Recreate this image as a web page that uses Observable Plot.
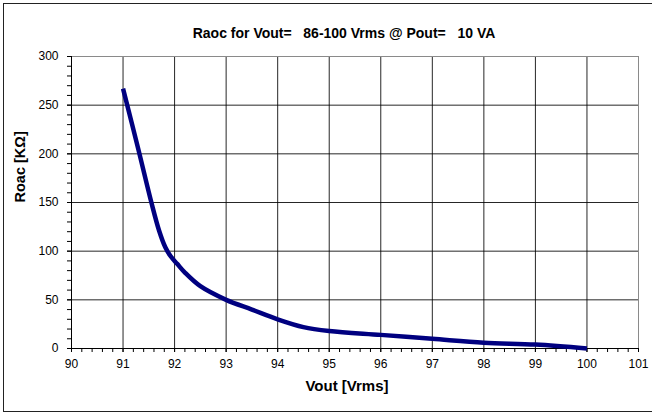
<!DOCTYPE html>
<html><head><meta charset="utf-8">
<script src="https://cdn.jsdelivr.net/npm/d3@7"></script>
<script src="https://cdn.jsdelivr.net/npm/@observablehq/plot@0.6"></script>
<style>
html,body{margin:0;padding:0;background:#fff;overflow:hidden}
#frame{position:absolute;left:3px;top:3px;width:649px;height:409px;border:1.5px solid #222;border-right:none;box-sizing:border-box;pointer-events:none}
</style>
</head><body>
<div id="chart"></div>
<div id="frame"></div>
<script>
// Data
const vout = [91, 91.3, 91.55, 91.7, 91.82, 91.92, 92.05, 92.2, 92.5, 93, 93.5, 94, 94.5, 95, 96, 97, 98, 99, 100];
const roac = [267, 204, 150, 121, 104, 95, 87, 78, 64, 50, 40, 30, 22, 18, 14, 10, 6, 4, 0];
const xTicks = [90, 91, 92, 93, 94, 95, 96, 97, 98, 99, 100, 101];
const yTicks = [0, 50, 100, 150, 200, 250, 300];
const xMinorTicks = d3.range(0, 56).map(i => 90 + i * 0.2);
const yMinorTicks = d3.range(0, 31).map(i => i * 10);
const title = "Raoc for Vout=   86-100 Vrms @ Pout=   10 VA";
const xLabel = "Vout [Vrms]";
const yLabel = "Roac [K\u03A9]";

const data = vout.map((v, i) => ({vout: v, roac: roac[i]}));

const chart = Plot.plot({
  width: 652,
  height: 414,
  marginLeft: 71,
  marginRight: 14,
  marginTop: 56,
  marginBottom: 66,
  style: {fontFamily: "'Liberation Sans', Arial, sans-serif", fontSize: "12px", background: "#fff", color: "#000"},
  x: {domain: [90, 101]},
  y: {domain: [0, 300]},
  marks: [
    Plot.gridX(xTicks, {stroke: "#000", strokeOpacity: 0.85}),
    Plot.gridY(yTicks, {stroke: "#000", strokeOpacity: 0.85}),
    Plot.ruleY([300], {stroke: "#8a8a8a"}),
    Plot.ruleX([101], {stroke: "#8a8a8a"}),
    Plot.ruleY([0], {stroke: "#000"}),
    Plot.ruleX([90], {stroke: "#000"}),
    Plot.axisX({ticks: xMinorTicks, tickSize: 4, tickFormat: () => "", label: null}),
    Plot.axisX({ticks: xTicks, tickSize: 4, tickPadding: 7, label: null, fontSize: 12}),
    Plot.axisY({ticks: yMinorTicks, tickSize: 4, tickFormat: () => "", label: null}),
    Plot.axisY({ticks: yTicks, tickSize: 4, tickPadding: 9, label: null, fontSize: 12}),
    Plot.line(data, {x: "vout", y: "roac", stroke: "#000080", strokeWidth: 4.5, curve: "catmull-rom", strokeLinecap: "butt"}),
    Plot.text([title], {frameAnchor: "top", dy: -28, dx: -11, fontWeight: "bold", fontSize: 14, text: d => d}),
    Plot.text([xLabel], {frameAnchor: "bottom", dy: 42, dx: -8, fontWeight: "bold", fontSize: 15, text: d => d}),
    Plot.text([yLabel], {frameAnchor: "left", dx: -51, dy: 0, rotate: -90, fontWeight: "bold", fontSize: 14.5, text: d => d})
  ]
});
chart.querySelectorAll("text").forEach(t => t.style.whiteSpace = "pre");
document.getElementById("chart").appendChild(chart);
</script>
</body></html>
